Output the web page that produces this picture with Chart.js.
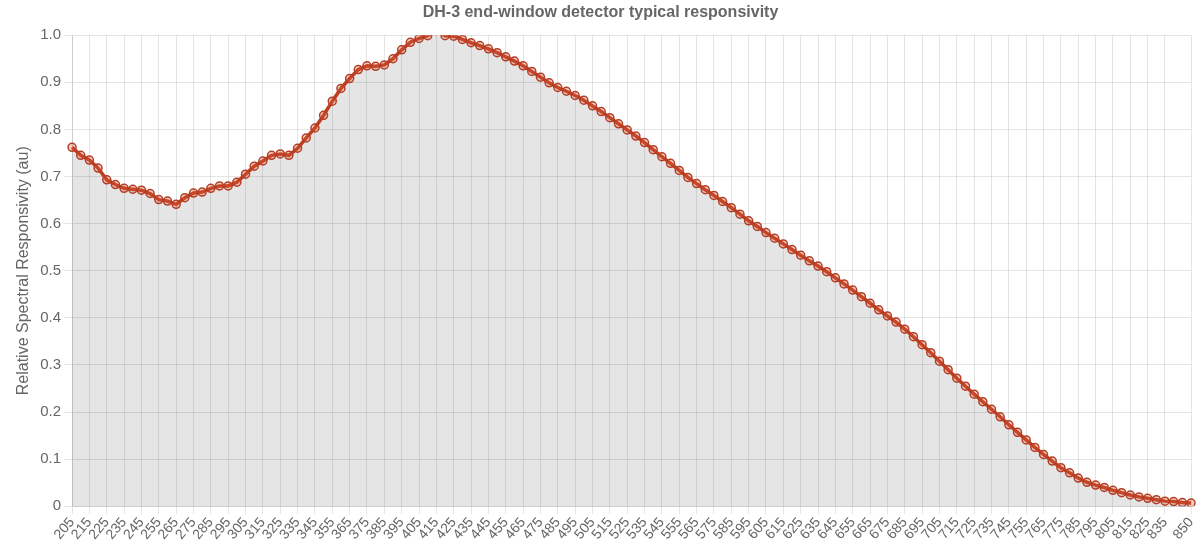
<!DOCTYPE html>
<html>

<head>
    <title>DH-3 responsivity</title>
    <meta charset="utf-8">
    <script src="https://cdn.jsdelivr.net/npm/chart.js@4.4.0/dist/chart.umd.min.js"></script>
    <style>
        body { margin: 0; background: #fff; }
        #wrap { width: 1197px; height: 545px; }
    </style>
    <script>
        // wavelength (nm), one point every 5 nm
        var wavelengths = [
            205, 210, 215, 220, 225, 230, 235, 240, 245, 250,
            255, 260, 265, 270, 275, 280, 285, 290, 295, 300,
            305, 310, 315, 320, 325, 330, 335, 340, 345, 350,
            355, 360, 365, 370, 375, 380, 385, 390, 395, 400,
            405, 410, 415, 420, 425, 430, 435, 440, 445, 450,
            455, 460, 465, 470, 475, 480, 485, 490, 495, 500,
            505, 510, 515, 520, 525, 530, 535, 540, 545, 550,
            555, 560, 565, 570, 575, 580, 585, 590, 595, 600,
            605, 610, 615, 620, 625, 630, 635, 640, 645, 650,
            655, 660, 665, 670, 675, 680, 685, 690, 695, 700,
            705, 710, 715, 720, 725, 730, 735, 740, 745, 750,
            755, 760, 765, 770, 775, 780, 785, 790, 795, 800,
            805, 810, 815, 820, 825, 830, 835, 840, 845, 850
        ];

        // relative responsivity
        var responsivity = [
            0.762, 0.745, 0.735, 0.718, 0.693, 0.683, 0.675, 0.673, 0.671, 0.664,
            0.651, 0.648, 0.641, 0.655, 0.665, 0.667, 0.675, 0.680, 0.680, 0.688,
            0.705, 0.722, 0.733, 0.745, 0.748, 0.745, 0.760, 0.782, 0.803, 0.830,
            0.860, 0.887, 0.908, 0.927, 0.935, 0.934, 0.937, 0.950, 0.969, 0.985,
            0.993, 0.999, 1.010, 0.999, 0.998, 0.991, 0.984, 0.978, 0.971, 0.963,
            0.954, 0.945, 0.935, 0.923, 0.911, 0.899, 0.889, 0.881, 0.872, 0.862,
            0.850, 0.838, 0.825, 0.812, 0.799, 0.786, 0.772, 0.757, 0.742, 0.728,
            0.713, 0.698, 0.685, 0.672, 0.660, 0.647, 0.634, 0.620, 0.606, 0.594,
            0.581, 0.569, 0.557, 0.545, 0.533, 0.521, 0.510, 0.498, 0.485, 0.472,
            0.459, 0.445, 0.431, 0.417, 0.404, 0.391, 0.376, 0.360, 0.343, 0.326,
            0.308, 0.290, 0.272, 0.255, 0.238, 0.222, 0.206, 0.190, 0.173, 0.157,
            0.141, 0.125, 0.110, 0.096, 0.082, 0.071, 0.060, 0.051, 0.045, 0.040,
            0.034, 0.029, 0.024, 0.020, 0.017, 0.014, 0.011, 0.010, 0.008, 0.007
        ];

        var yTicks = [0, 0.1, 0.2, 0.3, 0.4, 0.5, 0.6, 0.7, 0.8, 0.9, 1.0];

        function LoadChart() {
            var ctx = document.getElementById("myChart");
            var last = wavelengths.length - 1;
            // which categories get a label and a vertical grid line
            function shown(i) {
                return (i % 2 === 0 && i !== last - 1) || i === last;
            }
            return new Chart(ctx, {
                type: "line",
                data: {
                    labels: wavelengths,
                    datasets: [{
                        data: responsivity,
                        borderColor: "rgb(192, 60, 28)",
                        borderWidth: 3.5,
                        backgroundColor: "rgba(0, 0, 0, 0.1)",
                        fill: "origin",
                        pointRadius: 4,
                        pointBorderWidth: 1.5,
                        pointBorderColor: "rgb(180, 62, 38)",
                        pointBackgroundColor: "rgba(215, 95, 65, 0.3)",
                        tension: 0
                    }]
                },
                options: {
                    responsive: true,
                    maintainAspectRatio: false,
                    animation: false,
                    layout: { padding: { right: 6, left: 10, bottom: 2 } },
                    font: { family: "'Helvetica Neue', Helvetica, Arial, sans-serif" },
                    plugins: {
                        legend: { display: false },
                        tooltip: { enabled: false },
                        title: {
                            display: true,
                            text: "DH-3 end-window detector typical responsivity",
                            color: "#666",
                            font: { size: 16, weight: "bold" },
                            padding: { top: 3, bottom: 13 }
                        }
                    },
                    scales: {
                        x: {
                            afterFit: function(scale) {
                                // rotated last label does not need the extra room on the right
                                scale.paddingRight = 0;
                            },
                            grid: {
                                color: function(c) {
                                    return c.tick && c.tick.label !== "" ? "rgba(0,0,0,0.1)" : "rgba(0,0,0,0)";
                                }
                            },
                            ticks: {
                                color: "#666",
                                font: { size: 14 },
                                padding: 0,
                                autoSkip: false,
                                minRotation: 50,
                                maxRotation: 50,
                                callback: function(value, index) {
                                    return shown(index) ? this.getLabelForValue(value) : "";
                                }
                            }
                        },
                        y: {
                            min: yTicks[0],
                            max: yTicks[yTicks.length - 1],
                            grid: { color: "rgba(0,0,0,0.1)" },
                            afterBuildTicks: function(axis) {
                                axis.ticks = yTicks.map(function(v) { return { value: v }; });
                            },
                            ticks: {
                                color: "#666",
                                font: { size: 15 },
                                callback: function(v) {
                                    return v === 0 ? "0" : v.toFixed(1);
                                }
                            },
                            title: {
                                display: true,
                                text: "Relative Spectral Responsivity (au)",
                                color: "#666",
                                font: { size: 16 },
                                padding: 4
                            }
                        }
                    }
                }
            });
        }
    </script>
</head>

<body>
    <div id="wrap"><canvas id="myChart"></canvas></div>
    <script>
        var chart = LoadChart();
    </script>
</body>

</html>
